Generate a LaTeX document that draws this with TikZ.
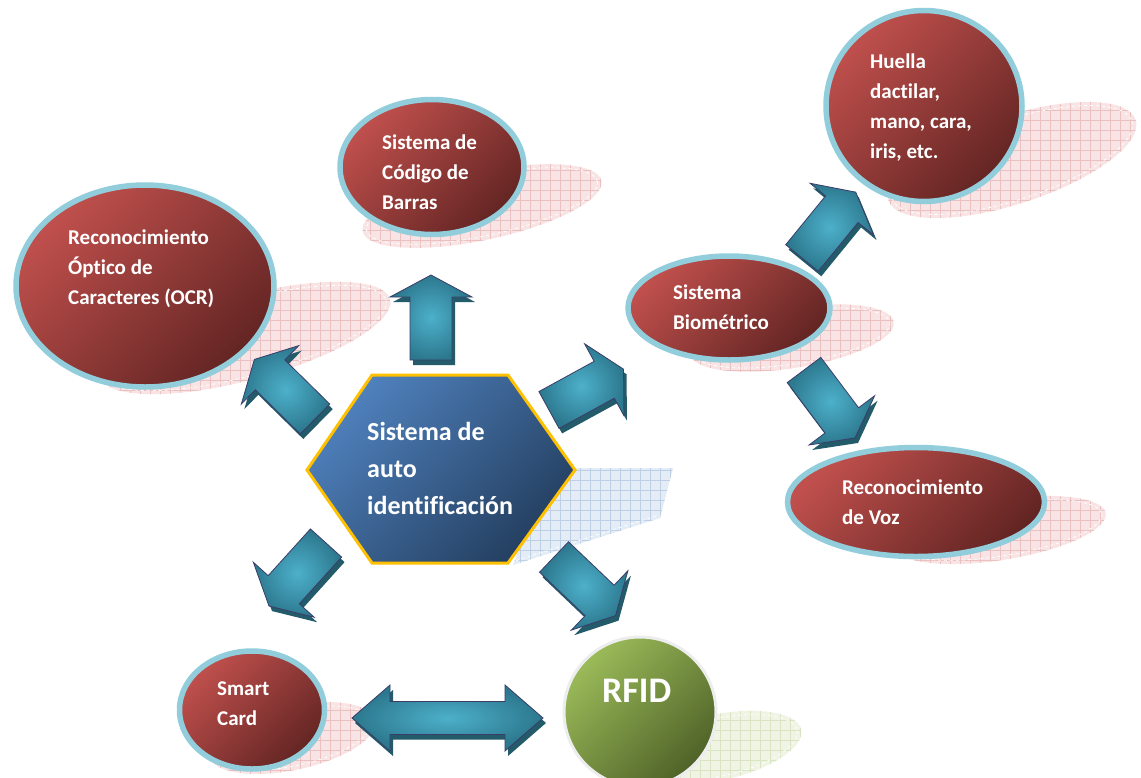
\documentclass[tikz,border=0pt]{standalone}
\usepackage{fontspec}
\setmainfont{Carlito}[Ligatures=NoCommon]
\usetikzlibrary{shapes.geometric}

\definecolor{redlight}{HTML}{C0504D}
\definecolor{reddark}{HTML}{632523}
\definecolor{ringblue}{HTML}{92CDDC}
\definecolor{greenlight}{HTML}{9BBB59}
\definecolor{greendark}{HTML}{4F6228}
\definecolor{hexlight}{HTML}{4F81BD}
\definecolor{hexdark}{HTML}{243F60}
\definecolor{hexgold}{HTML}{FFC000}
\definecolor{arrowlight}{HTML}{4DB0CA}
\definecolor{arrowdark}{HTML}{2C788E}
\definecolor{arrowedge}{HTML}{3B3D68}
\definecolor{arrowdepth}{HTML}{235B6A}
\definecolor{pinkfill}{HTML}{F8E4E4}
\definecolor{pinkgrid}{HTML}{EBC0C0}
\definecolor{greenfill}{HTML}{EFF4E4}
\definecolor{greengrid}{HTML}{D8E4C2}
\definecolor{bluefill}{HTML}{E4ECF6}
\definecolor{bluegrid}{HTML}{BDCFE6}

% flat hatched "floor" shadow under a bubble: cx, cy, rx, ry, tilt, fill, grid
\newcommand\flatshadow[7]{%
  \begin{scope}
    \clip[shift={(#1,#2)}, rotate=#5] (0,0) ellipse [x radius=#3, y radius=#4];
    \fill[#6] (#1-#3-10,#2-#3-10) rectangle (#1+#3+10,#2+#3+10);
    \draw[#7, line width=0.6pt, step=10pt] (#1-#3-10,#2-#3-10) grid (#1+#3+10,#2+#3+10);
  \end{scope}
  \draw[white, dashed, line width=0.8pt, shift={(#1,#2)}, rotate=#5]
    (0,0) ellipse [x radius=#3-4, y radius=#4-4];
}

% 3D block arrow starting at a tail coordinate, pointing in a direction
\newcommand\blockarrow[2]{%
  \fill[arrowdepth, shift={(#1)}, xshift=3pt, yshift=-5pt, rotate=#2]
    (0,-21) -- (63,-21) -- (63,-41) -- (85,0) -- (63,41) -- (63,21) -- (0,21) -- cycle;
  \draw[arrowbody, shift={(#1)}, rotate=#2]
    (0,-21) -- (63,-21) -- (63,-41) -- (85,0) -- (63,41) -- (63,21) -- (0,21) -- cycle;
}

\tikzset{
  bubble/.style={ellipse, draw=ringblue, line width=5.5pt, inner sep=0pt,
    top color=redlight, bottom color=reddark, shading angle=45},
  greenbubble/.style={ellipse, draw=black!7, line width=3pt, inner sep=0pt,
    top color=greenlight, bottom color=greendark, shading angle=45},
  arrowbody/.style={draw=arrowedge, line width=0.8pt, line join=miter,
    inner color=arrowlight, outer color=arrowdark},
  lbl/.style={text=white, font=\bfseries\fontsize{21}{30}\selectfont,
    align=left, anchor=west, inner sep=0pt},
  biglbl/.style={lbl, font=\bfseries\fontsize{26}{37}\selectfont},
  hugelbl/.style={lbl, font=\bfseries\fontsize{36}{40}\selectfont}
}

\begin{document}
\begin{tikzpicture}[x=1pt, y=-1pt]
\useasboundingbox (0,0) rectangle (1141,777);
\fill[white] (0,0) rectangle (1141,777);

% floor shadows
\flatshadow{245}{338}{150}{42}{15}{pinkfill}{pinkgrid}
\flatshadow{482}{206}{122}{34}{12}{pinkfill}{pinkgrid}
\flatshadow{1012}{160}{130}{44}{18}{pinkfill}{pinkgrid}
\flatshadow{792}{338}{103}{30}{9}{pinkfill}{pinkgrid}
\flatshadow{1000}{530}{107}{30}{9}{pinkfill}{pinkgrid}
\flatshadow{292}{738}{85}{32}{12}{pinkfill}{pinkgrid}
\flatshadow{715}{748}{88}{33}{12}{greenfill}{greengrid}

% floor shadow of the hexagon
\begin{scope}
  \clip (545,468) -- (673,468) -- (660,518) -- (513,565) -- (530,520) -- cycle;
  \fill[bluefill] (500,460) rectangle (680,570);
  \draw[bluegrid, line width=0.6pt, step=10pt] (500,460) grid (680,570);
\end{scope}
\draw[white, dashed, line width=0.8pt] (656,516) -- (515,561);

% bubbles
\node[bubble, minimum width=258, minimum height=202] (ocr) at (145,286) {};
\node[bubble, minimum width=184, minimum height=135] (barras) at (432,167) {};
\node[bubble, minimum width=196, minimum height=191] (huella) at (924,106) {};
\node[bubble, minimum width=202, minimum height=104] (bio) at (729,308) {};
\node[bubble, minimum width=257, minimum height=109] (voz) at (916,502) {};
\node[bubble, minimum width=145, minimum height=118] (smart) at (252,710) {};
\node[greenbubble, minimum width=152, minimum height=150] (rfid) at (640,712) {};

% central hexagon
\draw[hexgold, line width=3pt, line join=miter, top color=hexlight, bottom color=hexdark, shading angle=45]
  (372,375) -- (508,375) -- (575,470) -- (508,563) -- (372,563) -- (307,470) -- cycle;
\coordinate (hex) at (441,469);

% arrows
\coordinate (tbarras) at (431,360);
\coordinate (tocr) at (315,419);
\coordinate (tbio) at (549,410);
\coordinate (tsmart) at (326,543);
\coordinate (trfid) at (554,557);
\coordinate (thuella) at (802,258);
\coordinate (tvoz) at (804,370);
\blockarrow{tbarras}{90}
\blockarrow{tocr}{135.5}
\blockarrow{tbio}{28.7}
\blockarrow{tsmart}{-132.1}
\blockarrow{trfid}{-43.6}
\blockarrow{thuella}{50.8}
\blockarrow{tvoz}{-53.1}

% two-way arrow between Smart Card and RFID
\coordinate (dbl) at (447.5,718);
\fill[arrowdepth, shift={(dbl)}, xshift=3pt, yshift=-5pt]
  (-95.5,0) -- (-57.5,-33) -- (-57.5,-16.5) -- (57.5,-16.5) -- (57.5,-33) -- (95.5,0)
  -- (57.5,33) -- (57.5,16.5) -- (-57.5,16.5) -- (-57.5,33) -- cycle;
\draw[arrowbody, shift={(dbl)}]
  (-95.5,0) -- (-57.5,-33) -- (-57.5,-16.5) -- (57.5,-16.5) -- (57.5,-33) -- (95.5,0)
  -- (57.5,33) -- (57.5,16.5) -- (-57.5,16.5) -- (-57.5,33) -- cycle;

% labels
\node[lbl] (ocrtext) at (68,269) {Reconocimiento\\Óptico de\\Caracteres (OCR)};
\node[lbl] (barrastext) at (382,172) {Sistema de\\Código de\\Barras};
\node[lbl] (huellatext) at (870,108) {Huella\\dactilar,\\mano, cara,\\iris, etc.};
\node[lbl] (biotext) at (673,307.5) {Sistema\\Biométrico};
\node[lbl] (voztext) at (842,502.5) {Reconocimiento\\de Voz};
\node[lbl] (smarttext) at (217,704) {Smart\\Card};
\node[hugelbl] (rfidtext) at (602,691) {RFID};
\node[biglbl] (hextext) at (367,468) {Sistema de\\auto\\identificación};
\end{tikzpicture}
\end{document}
